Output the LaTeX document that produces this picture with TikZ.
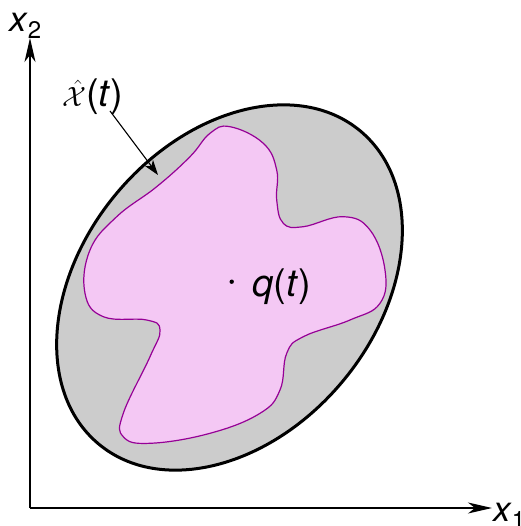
\documentclass[tikz,border=0pt]{standalone}
\usepackage{fontspec}
\setmainfont{TeX Gyre Heros}
\usetikzlibrary{arrows.meta}
\definecolor{setgray}{RGB}{204,204,204}
\definecolor{setpink}{RGB}{244,200,244}
\definecolor{setpurple}{RGB}{150,0,150}
\tikzset{
  axis/.style={line width=1.4pt,-{Stealth[length=24pt,width=11pt,inset=7pt]}},
  leader/.style={line width=1.1pt,-{Stealth[length=15pt,width=10pt,inset=4pt]}},
  lbl/.style={inner sep=0pt,font=\fontsize{38}{44}\selectfont},
  axlbl/.style={inner sep=0pt,font=\fontsize{35}{40}\selectfont}
}
\begin{document}
\begin{tikzpicture}[x=1pt,y=1pt]
\useasboundingbox (0,0) rectangle (520,-526);
% outer ellipse
\draw[fill=setgray,line width=3pt,rotate around={50:(229.5,-287.5)}]
  (229.5,-287.5) ellipse [x radius=204pt, y radius=147pt];
% inner blob
\draw[fill=setpink,draw=setpurple,line width=1.2pt]
  plot[smooth cycle,tension=0.7] coordinates {
  (230,-126.7) (263.3,-143.3) (276.7,-170) (276.7,-200) (283.3,-223.3)
  (303.3,-226.7) (343.3,-216.7) (370,-230) (385,-270) (380,-303.3)
  (350,-320) (303.3,-336.7) (286.7,-353.3) (280,-390) (260,-413.3)
  (210,-433.3) (150,-443.3) (123.3,-436.7) (123.3,-413.3) (150,-356.7)
  (160,-330) (146.7,-320) (103.3,-316.7) (85,-293.3) (90,-250)
  (116.7,-216.7) (156.7,-186.7) (190,-156.7) (210,-133.3)};
% axes
\coordinate (origin) at (30,-508);
\coordinate (ytip) at (30,-38);
\coordinate (xtip) at (492,-508);
\draw[axis] (origin) -- (ytip);
\draw[axis] (origin) -- (xtip);
\node[axlbl,anchor=base west] (x2) at (9,-32) {\textit{x}\raisebox{-7pt}{\fontsize{24}{24}\selectfont 2}};
\node[axlbl,anchor=base west] (x1) at (493,-521) {\textit{x}\raisebox{-7pt}{\fontsize{24}{24}\selectfont 1}};
% center point
\fill (231.7,-281.7) circle (2.2pt) coordinate (q);
\node[lbl,anchor=base west] (qlabel) at (252,-296) {\textit{q}(\textit{t})};
% ellipse label
\node[lbl,anchor=base west] (xhat) at (62,-107) {\scalebox{1.12}{$\hat{\mathcal{X}}$}(\textit{t})};
\coordinate (onellipse) at (158,-175);
\draw[leader] (110,-111) -- (onellipse);
\end{tikzpicture}
\end{document}
